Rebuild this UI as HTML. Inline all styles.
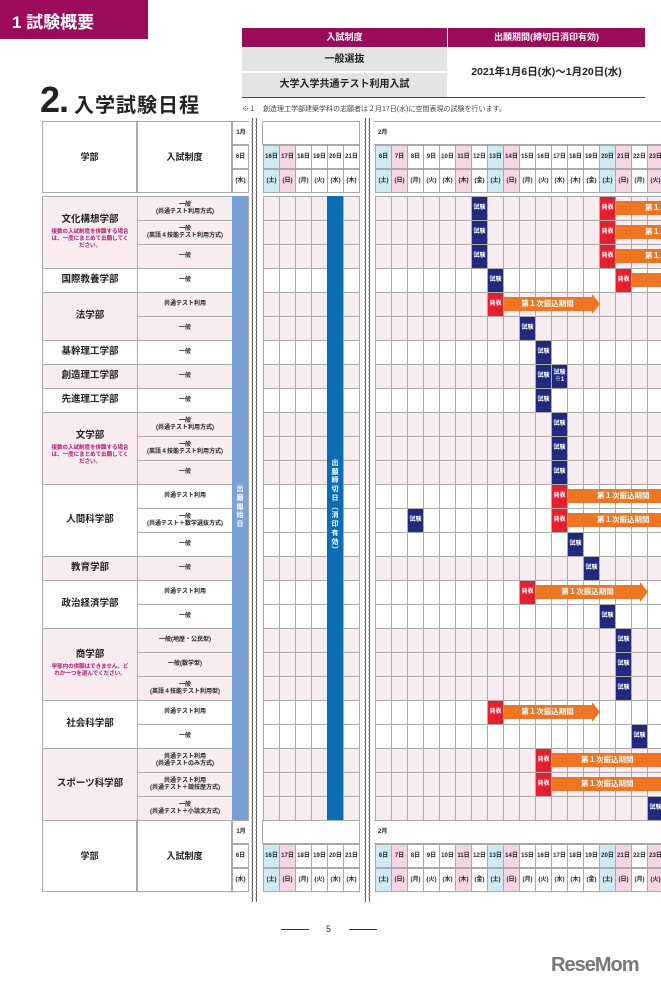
<!DOCTYPE html>
<html><head><meta charset="utf-8">
<style>
*{box-sizing:border-box;margin:0;padding:0}
body{width:661px;height:990px;overflow:hidden;background:#fff;position:relative;font-family:"Liberation Sans","Noto Sans CJK JP",sans-serif;color:#222}
.a{position:absolute}
.c{position:absolute;display:flex;align-items:center;justify-content:center;text-align:center;line-height:1.15}
#grid{position:absolute;left:0;top:0;width:661px;height:990px;overflow:hidden}
</style></head><body>
<div class="a" style="left:0;top:0;width:148px;height:39px;background:#9c0a5a;color:#fff;font-size:17px;font-weight:bold;padding:8px 0 0 12px">1 試験概要</div>

<div>
<div class="c" style="left:242px;top:28px;width:205px;height:19px;background:#9c0a5a;color:#fff;font-size:9px;font-weight:bold">入試制度</div>
<div class="c" style="left:448px;top:28px;width:197px;height:19px;background:#9c0a5a;color:#fff;font-size:9px;font-weight:bold">出願期間(締切日消印有効)</div>
<div class="c" style="left:242px;top:48px;width:205px;height:23px;background:#e4e4e4;font-size:10px;font-weight:bold">一般選抜</div>
<div class="c" style="left:242px;top:73px;width:205px;height:24px;background:#e4e4e4;font-size:10px;font-weight:bold">大学入学共通テスト利用入試</div>
<div class="c" style="left:448px;top:48px;width:197px;height:49px;font-size:10.5px;font-weight:bold">2021年1月6日(水)〜1月20日(水)</div>
<div class="a" style="left:242px;top:97px;width:403px;height:1px;background:#444"></div>
</div>
<div class="a" style="left:40px;top:80px;font-size:36px;font-weight:bold;line-height:40px;letter-spacing:-1px">2.<span style="font-size:20px;margin-left:6px;letter-spacing:1px">入学試験日程</span></div>
<div class="a" style="left:242px;top:104px;font-size:7px;color:#444">※１　創造理工学部建築学科の志願者は２月17日(水)に空間表現の試験を行います。</div>

<div id="grid"></div>

<div class="a" style="left:280px;top:924px;width:97px;font-size:9px;text-align:center;color:#333">5</div>
<div class="a" style="left:281px;top:929px;width:28px;height:1px;background:#333"></div>
<div class="a" style="left:349px;top:929px;width:28px;height:1px;background:#333"></div>
<div class="a" style="left:551px;top:954px;font-size:20px;font-weight:bold;color:#777;letter-spacing:-1px">ReseMom</div>

<script>
const janDays=[6,16,17,18,19,20,21];
const janWeek=["水","土","日","月","火","水","木"];
const febDays=[6,7,8,9,10,11,12,13,14,15,16,17,18,19,20,21,22,23];
const febWeek=["土","日","月","火","水","木","金","土","日","月","火","水","木","金","土","日","月","火"];
const febHolidays=[11,23];
const faculties=[
 ["文化構想学部",3,"複数の入試制度を併願する場合は、一度にまとめて出願してください。"],
 ["国際教養学部",1,""],["法学部",2,""],["基幹理工学部",1,""],["創造理工学部",1,""],["先進理工学部",1,""],
 ["文学部",3,"複数の入試制度を併願する場合は、一度にまとめて出願してください。"],
 ["人間科学部",3,""],["教育学部",1,""],["政治経済学部",2,""],
 ["商学部",3,"学部内の併願はできません。どれか一つを選んでください。"],
 ["社会科学部",2,""],["スポーツ科学部",3,""]];
const systems=["一般<br>(共通テスト利用方式)","一般<br>(英語４技能テスト利用方式)","一般","一般","共通テスト利用","一般","一般","一般","一般",
 "一般<br>(共通テスト利用方式)","一般<br>(英語４技能テスト利用方式)","一般","共通テスト利用","一般<br>(共通テスト＋数学選抜方式)","一般","一般",
 "共通テスト利用","一般","一般(地歴・公民型)","一般(数学型)","一般<br>(英語４技能テスト利用型)","共通テスト利用","一般",
 "共通テスト利用<br>(共通テストのみ方式)","共通テスト利用<br>(共通テスト＋競技歴方式)","一般<br>(共通テスト＋小論文方式)"];
const exams=[[0,12],[1,12],[2,12],[3,13],[5,15],[6,16],[7,16],[8,16],[9,17],[10,17],[11,17],[13,8],[14,18],[15,19],[17,20],[18,21],[19,21],[20,21],[22,22],[25,23]];
const examNote=[[7,17]];
const announces=[[0,20],[1,20],[2,20],[3,21],[4,13],[12,17],[13,17],[16,15],[21,13],[23,16],[24,16]];
const arrows=[[0,21,null],[1,21,null],[2,21,null],[3,22,null],[4,14,19],[12,18,null],[13,18,null],[16,16,22],[21,14,19],[23,17,null],[24,17,null]];

const G=document.getElementById('grid');
const TOP=196,RH=24,X0=42,X1=137,X2=232,FEBX=375,CW=16;
function jx(i){return i===0?232:263+CW*(janDays[i]-16);}
function fx(d){return FEBX+CW*(d-6);}
function add(css,html){const e=document.createElement('div');e.className='c';e.style.cssText=css;if(html)e.innerHTML=html;G.appendChild(e);return e;}
function ry(r){return TOP+RH*r;}
const B='1px solid #aaa';

function header(y){
 const h=add(`left:${X0}px;top:${y}px;width:${X1-X0}px;height:72px;border:${B};font-size:9px;font-weight:bold`,'学部');
 
 
 const h2=add(`left:${X1}px;top:${y}px;width:${X2-X1}px;height:72px;border:${B};font-size:9px;font-weight:bold`,'入試制度');
 
 
 const m1=add(`left:232px;top:${y}px;width:18px;height:24px;border:${B};font-size:6px;font-weight:bold`,'1月');
 
 
 add(`left:262px;top:${y}px;width:98px;height:24px;border:${B}`);
 const m2=add(`left:372px;top:${y}px;width:300px;height:24px;border:${B};font-size:6px;font-weight:bold;justify-content:flex-start;padding-left:5px`,'2月');
 
 
 function dcell(x,d,w,bg){
  const a=add(`left:${x}px;top:${y+24}px;width:17px;height:24px;border:${B};background:${bg};font-size:6px;font-weight:bold`,d+'日');
  
  
  const b=add(`left:${x}px;top:${y+48}px;width:17px;height:24px;border:${B};background:${bg};font-size:6px;font-weight:bold`,'('+w+')');
  
  
 }
 function col(w,d,hol){return w==='土'?'#cdeaf6':(w==='日'||hol)?'#f8d5e4':'#fff';}
 janDays.forEach((d,i)=>dcell(jx(i),d,janWeek[i],col(janWeek[i],d,false)));
 febDays.forEach((d,i)=>dcell(fx(d),d,febWeek[i],col(febWeek[i],d,febHolidays.includes(d))));
}
header(121);
header(820);

let r=0;
faculties.forEach((f,fi)=>{
 const bg=fi%2===0?'#f8ecf1':'#fff';
 const h=RH*f[1];
 const fc=add(`left:${X0}px;top:${ry(r)}px;width:${X1-X0+1}px;height:${h+1}px;border:${B};background:${bg};flex-direction:column;font-size:9.5px;font-weight:bold`,
  f[0]+(f[2]?`<span style="font-size:5.5px;color:#b0186a;margin-top:3px;padding:0 6px;line-height:1.3">${f[2]}</span>`:''));
 
 
 for(let k=0;k<f[1];k++){
  const rr=r+k;
  const sc=add(`left:${X1}px;top:${ry(rr)}px;width:${X2-X1+1}px;height:${RH+1}px;border:${B};background:${bg};font-size:6px;font-weight:bold`,systems[rr]);
  
  
  janDays.forEach((d,i)=>{add(`left:${jx(i)}px;top:${ry(rr)}px;width:17px;height:${RH+1}px;border:${B};background:${bg}`);});
  febDays.forEach(d=>{add(`left:${fx(d)}px;top:${ry(rr)}px;width:17px;height:${RH+1}px;border:${B};background:${bg}`);});
 }
 r+=f[1];
});
[[249,13],[360,14]].forEach(g=>{add(`left:${g[0]}px;top:121px;width:${g[1]}px;height:774px;background:#fff`);});
const svgNS='http://www.w3.org/2000/svg';
const sv=document.createElementNS(svgNS,'svg');
sv.setAttribute('width','661');sv.setAttribute('height','990');
sv.style.cssText='position:absolute;left:0;top:0';
[252,256,365,369].forEach(x=>{
 let d=`M${x} 118`;
 for(let y=118;y<900;y+=4){d+=` q ${(y/4)%2?1.2:-1.2} 2 0 4`;}
 const p=document.createElementNS(svgNS,'path');
 p.setAttribute('d',d);p.setAttribute('stroke','#333');p.setAttribute('fill','none');p.setAttribute('stroke-width','0.8');
 sv.appendChild(p);
});
G.appendChild(sv);
const b1=add(`left:232px;top:${TOP}px;width:16px;height:${RH*26}px;background:#7aa1d6;color:#fff;font-size:7px;font-weight:bold;line-height:1.25`,'出<br>願<br>開<br>始<br>日');


const b2=add(`left:327px;top:${TOP}px;width:16px;height:${RH*26}px;background:#0b6db6;color:#fff;font-size:7px;font-weight:bold;line-height:1.25`,'出<br>願<br>締<br>切<br>日<br>︵<br>消<br>印<br>有<br>効<br>︶');


arrows.forEach(a=>{
 const x=fx(a[1]);const end=a[2]===null?700:fx(a[2]+1)+1;
 const y=ry(a[0])+5;
 const e=add(`left:${x}px;top:${y}px;width:${end-x-(a[2]===null?0:8)}px;height:14px;background:#ef7522;color:#fff;font-size:7.5px;font-weight:bold;justify-content:${a[2]===null?'flex-start':'center'}`,a[2]===null?'<span style="margin-left:30px">第１次振込期間</span>':'第１次振込期間');
 
 
 if(a[2]!==null){
  add(`left:${end-8}px;top:${y-3}px;width:0;height:0;border-top:10px solid transparent;border-bottom:10px solid transparent;border-left:8px solid #ef7522`);
 }
});
exams.forEach(a=>{
 const e=add(`left:${fx(a[1])}px;top:${ry(a[0])}px;width:17px;height:${RH+1}px;background:#1f2a7c;color:#fff;font-size:6px;font-weight:bold;border:1px solid #aaa`,'試験');
 
 
});
examNote.forEach(a=>{
 const e=add(`left:${fx(a[1])}px;top:${ry(a[0])}px;width:17px;height:${RH+1}px;background:#1f2a7c;color:#fff;font-size:6px;font-weight:bold;border:1px solid #aaa`,'試験<br>※1');
 
 
});
announces.forEach(a=>{
 const e=add(`left:${fx(a[1])}px;top:${ry(a[0])}px;width:17px;height:${RH+1}px;background:#e5202e;color:#fff;font-size:6px;font-weight:bold;border:1px solid #aaa`,'発表');
 
 
});
</script>
</body></html>
